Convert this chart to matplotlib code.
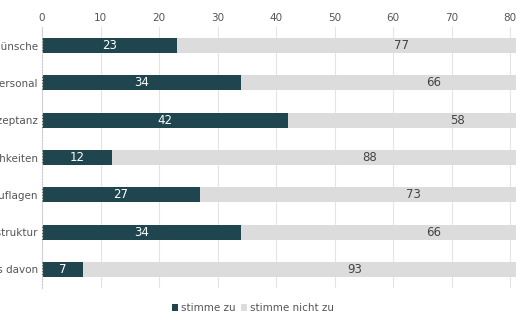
import numpy as np
import matplotlib
matplotlib.use('Agg')
import matplotlib.pyplot as plt

# survey answers, percent
categories = ["Kundenwünsche", "Fehlendes Personal", "Fehlende Akzeptanz",
              "Fehlende Möglichkeiten", "Gesetzliche Auflagen",
              "Fehlende Infrastruktur", "Nichts davon"]
agree = [23, 34, 42, 12, 27, 34, 7]
disagree = [77, 66, 58, 88, 73, 66, 93]
series_names = ["stimme zu", "stimme nicht zu"]
xticks = [0, 10, 20, 30, 40, 50, 60, 70, 80, 90, 100]

DARK = '#1f464f'
LIGHT = '#dcdcdc'
TXT = '#555555'

fig = plt.figure(figsize=(5.16, 3.23), dpi=100)
# axis runs on past the right border, as in the reference crop
ax = fig.add_axes([42 / 516, 1 - 288 / 323, 585 / 516, 261 / 323])

y = np.arange(len(categories))
b1 = ax.barh(y, agree, height=0.4, color=DARK, label=series_names[0], zorder=2)
b2 = ax.barh(y, disagree, left=agree, height=0.4, color=LIGHT,
             label=series_names[1], zorder=2)

for i in range(len(categories)):
    ax.text(agree[i] / 2, y[i], str(agree[i]), ha='center', va='center',
            color='white', fontsize=8.5, zorder=3)
    ax.text(agree[i] + disagree[i] / 2, y[i], str(disagree[i]),
            ha='center', va='center', color='#444444', fontsize=8.5, zorder=3)

ax.set_xlim(0, 100)
ax.set_ylim(len(categories) - 0.5, -0.5)
ax.set_xticks(xticks)
ax.set_yticks(y)
ax.set_yticklabels(categories)
ax.xaxis.tick_top()
ax.tick_params(axis='both', length=0, labelsize=7.5, labelcolor=TXT, pad=3)
ax.grid(axis='x', color='#e4e4e4', lw=0.8, zorder=0)
for s in ['top', 'right', 'bottom']:
    ax.spines[s].set_visible(False)
ax.spines['left'].set_color('#cccccc')
ax.spines['left'].set_linestyle(':')
ax.spines['left'].set_linewidth(0.8)

fig.legend(handles=[b1, b2], loc='center', bbox_to_anchor=(253 / 516, 1 - 308 / 323),
           ncol=2, frameon=False, fontsize=7.5, handlelength=0.6, handleheight=0.6,
           handletextpad=0.3, columnspacing=0.5, labelcolor=TXT)

fig.savefig('out.png', dpi=100)
